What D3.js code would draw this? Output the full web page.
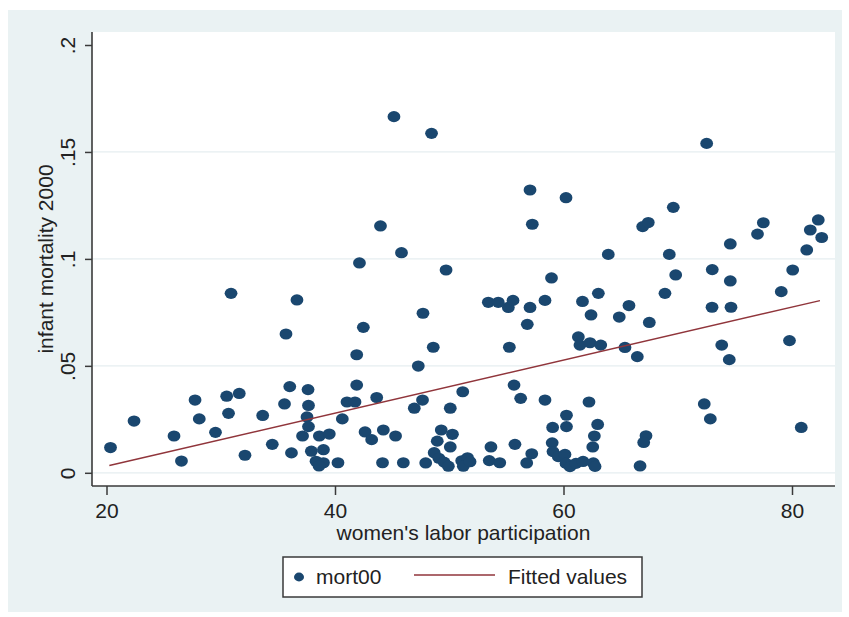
<!DOCTYPE html>
<html>
<head>
<meta charset="utf-8">
<script src="https://cdn.jsdelivr.net/npm/d3@7/dist/d3.min.js"></script>
<style>
  html, body { margin: 0; padding: 0; background: #ffffff; }
  svg { display: block; }
  text { font-family: "Liberation Sans", Arial, sans-serif; fill: #222; }
</style>
</head>
<body>
<svg id="chart" width="849" height="617"></svg>
<script>
// women's labor participation (%) per country
const laborPart = [
  20.35, 22.41, 25.91, 26.56, 27.75, 28.12, 29.54, 30.52, 30.68, 31.62,
  32.12, 33.67, 34.51, 30.90, 35.71, 35.58, 36.04, 36.19, 36.67, 37.64,
  37.68, 37.55, 37.68, 37.16, 38.63, 39.50, 38.99, 37.93, 38.34, 38.99,
  38.60, 40.26, 40.64, 41.05, 41.75, 41.90, 41.90, 42.48, 42.14, 43.98,
  45.82, 45.16, 48.45, 49.72, 43.65, 42.63, 43.21, 44.23, 45.30, 44.16,
  45.98, 46.94, 47.66, 47.29, 47.70, 48.60, 51.18, 50.09, 49.30, 50.28,
  48.95, 50.09, 47.94, 48.68, 49.09, 49.54, 49.92, 51.09, 51.60, 51.23,
  51.82, 53.65, 53.50, 54.42, 55.75, 55.67, 56.25, 58.38, 55.26, 56.83,
  57.07, 55.17, 53.42, 54.29, 55.58, 58.38, 57.07, 60.22, 57.27, 58.95,
  56.78, 57.22, 59.01, 59.08, 59.54, 60.13, 60.22, 60.57, 61.09, 61.71,
  62.61, 62.76, 60.26, 60.26, 59.05, 61.30, 61.44, 61.66, 62.23, 62.99,
  62.70, 62.56, 62.41, 62.32, 63.26, 63.05, 63.92, 64.88, 65.73, 65.38,
  66.46, 67.51, 66.70, 67.22, 67.02, 66.93, 67.42, 69.61, 69.26, 68.88,
  69.82, 72.53, 73.02, 74.60, 74.60, 73.00, 74.66, 73.85, 74.51, 72.32,
  72.85, 76.98, 77.49, 80.06, 79.06, 79.78, 80.81, 81.29, 81.60, 82.30,
  82.60
];

// infant mortality 2000 (mort00), same country order
const mort00 = [
  0.0118, 0.0242, 0.0172, 0.0055, 0.0340, 0.0252, 0.0189, 0.0358, 0.0278, 0.0371,
  0.0082, 0.0268, 0.0133, 0.0839, 0.0649, 0.0322, 0.0403, 0.0093, 0.0808, 0.0389,
  0.0315, 0.0261, 0.0216, 0.0172, 0.0172, 0.0181, 0.0108, 0.0101, 0.0054, 0.0047,
  0.0032, 0.0047, 0.0252, 0.0331, 0.0331, 0.0410, 0.0552, 0.0680, 0.0981, 0.1154,
  0.1029, 0.1665, 0.1587, 0.0948, 0.0352, 0.0191, 0.0155, 0.0200, 0.0172, 0.0047,
  0.0047, 0.0302, 0.0340, 0.0499, 0.0746, 0.0587, 0.0379, 0.0302, 0.0200, 0.0180,
  0.0148, 0.0121, 0.0046, 0.0094, 0.0068, 0.0050, 0.0031, 0.0056, 0.0070, 0.0031,
  0.0052, 0.0121, 0.0057, 0.0047, 0.0133, 0.0410, 0.0348, 0.0340, 0.0587, 0.0694,
  0.0773, 0.0773, 0.0797, 0.0797, 0.0806, 0.0806, 0.1322, 0.1286, 0.1162, 0.0911,
  0.0046, 0.0089, 0.0140, 0.0099, 0.0076, 0.0086, 0.0044, 0.0029, 0.0044, 0.0053,
  0.0046, 0.0030, 0.0269, 0.0216, 0.0212, 0.0635, 0.0597, 0.0801, 0.0331, 0.0226,
  0.0172, 0.0121, 0.0738, 0.0608, 0.0597, 0.0839, 0.1021, 0.0728, 0.0782, 0.0586,
  0.0543, 0.0703, 0.0032, 0.0173, 0.0142, 0.1151, 0.1170, 0.1241, 0.1021, 0.0839,
  0.0925, 0.1540, 0.0950, 0.0897, 0.1070, 0.0774, 0.0774, 0.0597, 0.0529, 0.0322,
  0.0252, 0.1116, 0.1169, 0.0948, 0.0847, 0.0618, 0.0212, 0.1042, 0.1135, 0.1182,
  0.1100
];

// fitted values of the linear regression at both ends of the observed range
const fitLabor = [20.25, 82.45];
const fitMort = [0.0034, 0.0805];

const xTicks = [20, 40, 60, 80];
const yTicks = [0, 0.05, 0.1, 0.15, 0.2];
const gridTicks = [0, 0.05, 0.1, 0.15];
const xTitle = "women's labor participation";
const yTitle = "infant mortality 2000";
const legendLabels = ["mort00", "Fitted values"];

const navy = "#1a476f";
const maroon = "#90353b";
const axisColor = "#3a3a3a";

const svg = d3.select("#chart");

// graph region background
svg.append("rect")
  .attr("x", 8).attr("y", 10).attr("width", 834).attr("height", 602)
  .attr("fill", "#eaf2f3");

// plot region
const plot = { left: 92, right: 835, top: 32, bottom: 486 };
svg.append("rect")
  .attr("x", plot.left).attr("y", plot.top)
  .attr("width", plot.right - plot.left).attr("height", plot.bottom - plot.top)
  .attr("fill", "#ffffff");

const x = d3.scaleLinear().domain([20, 80]).range([106.5, 792]);
const y = d3.scaleLinear().domain([0, 0.2]).range([472.8, 45]);

// horizontal grid lines
svg.append("g").selectAll("line")
  .data(gridTicks)
  .join("line")
  .attr("x1", plot.left).attr("x2", plot.right)
  .attr("y1", d => y(d)).attr("y2", d => y(d))
  .attr("stroke", "#e6eef0").attr("stroke-width", 1.2);

// y axis
const fmt = d => d === 0 ? "0" : String(d).replace(/^0/, "");
const yAxis = svg.append("g")
  .attr("transform", `translate(${plot.left},0)`)
  .call(d3.axisLeft(y).tickValues(yTicks).tickFormat(fmt).tickSize(7).tickSizeOuter(0));
yAxis.select(".domain").remove();
yAxis.selectAll(".tick line").attr("stroke", axisColor).attr("stroke-width", 1.5);
yAxis.selectAll(".tick text")
  .attr("transform", "rotate(-90)")
  .attr("x", 0).attr("y", -17).attr("dy", 0)
  .attr("text-anchor", "middle")
  .style("font-size", "21px").style("font-family", "'Liberation Sans', Arial, sans-serif")
  .attr("fill", "#222");
svg.append("line")
  .attr("x1", plot.left).attr("x2", plot.left)
  .attr("y1", plot.top).attr("y2", plot.bottom)
  .attr("stroke", axisColor).attr("stroke-width", 1.6);

// x axis
const xAxis = svg.append("g")
  .attr("transform", `translate(0,${plot.bottom})`)
  .call(d3.axisBottom(x).tickValues(xTicks).tickFormat(d3.format("d")).tickSize(9).tickSizeOuter(0));
xAxis.select(".domain").remove();
xAxis.selectAll(".tick line").attr("stroke", axisColor).attr("stroke-width", 1.5);
xAxis.selectAll(".tick text")
  .attr("y", 32).attr("dy", 0)
  .style("font-size", "21px").style("font-family", "'Liberation Sans', Arial, sans-serif")
  .attr("fill", "#222");
svg.append("line")
  .attr("x1", plot.left).attr("x2", plot.right)
  .attr("y1", plot.bottom).attr("y2", plot.bottom)
  .attr("stroke", axisColor).attr("stroke-width", 1.6);

// axis titles
svg.append("text")
  .attr("x", (plot.left + plot.right) / 2).attr("y", 540)
  .attr("text-anchor", "middle")
  .style("font-size", "21px")
  .text(xTitle);
svg.append("text")
  .attr("transform", `translate(53,${(plot.top + plot.bottom) / 2}) rotate(-90)`)
  .attr("text-anchor", "middle")
  .style("font-size", "21px")
  .text(yTitle);

// scatter points
const points = laborPart.map((v, i) => ({ x: v, y: mort00[i] }));
svg.append("g").selectAll("ellipse")
  .data(points)
  .join("ellipse")
  .attr("cx", d => x(d.x)).attr("cy", d => y(d.y))
  .attr("rx", 6.4).attr("ry", 5.6)
  .attr("fill", navy);

// fitted regression line
const fitted = fitLabor.map((v, i) => ({ x: v, y: fitMort[i] }));
svg.append("path")
  .datum(fitted)
  .attr("d", d3.line().x(d => x(d.x)).y(d => y(d.y)))
  .attr("fill", "none").attr("stroke", maroon).attr("stroke-width", 1.5);

// legend
const lg = svg.append("g");
lg.append("rect")
  .attr("x", 283).attr("y", 557).attr("width", 359).attr("height", 40)
  .attr("fill", "#ffffff").attr("stroke", axisColor).attr("stroke-width", 1.5);
lg.append("ellipse")
  .attr("cx", 299).attr("cy", 577).attr("rx", 5).attr("ry", 4.4)
  .attr("fill", navy);
lg.append("text").attr("x", 316).attr("y", 584).style("font-size", "21px").text(legendLabels[0]);
lg.append("line")
  .attr("x1", 414).attr("x2", 495).attr("y1", 575).attr("y2", 575)
  .attr("stroke", maroon).attr("stroke-width", 1.5);
lg.append("text").attr("x", 508).attr("y", 584).style("font-size", "21px").text(legendLabels[1]);
</script>
</body>
</html>
